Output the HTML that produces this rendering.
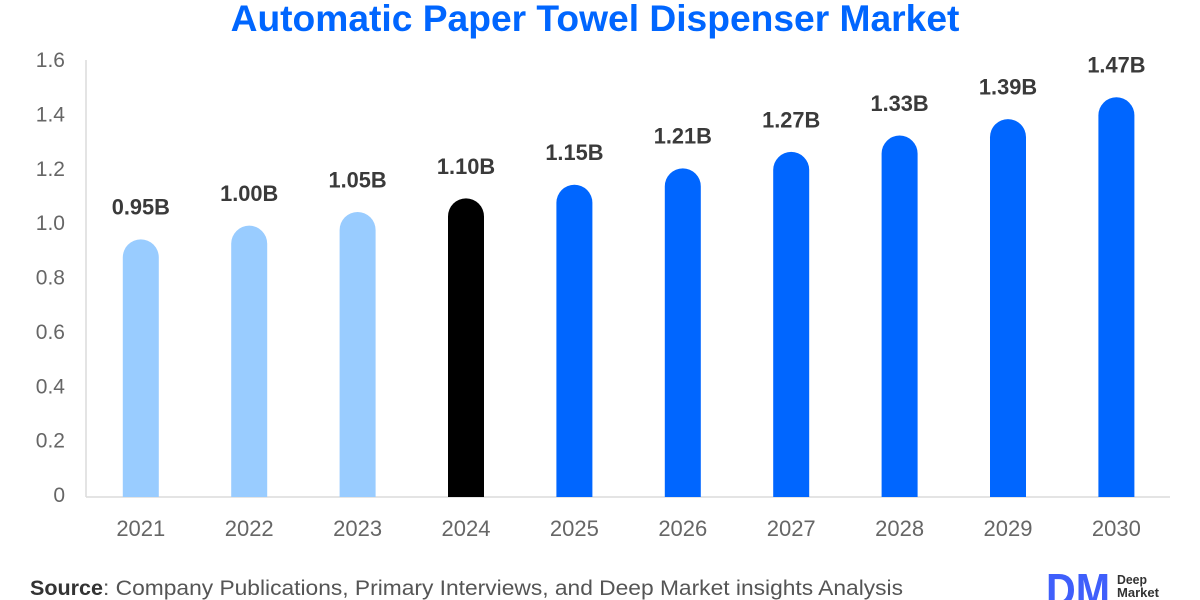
<!DOCTYPE html>
<html lang="en">
<head>
<meta charset="utf-8">
<title>Automatic Paper Towel Dispenser Market</title>
<style>
html,body{margin:0;padding:0;background:#fff;}
svg{display:block;font-family:"Liberation Sans",sans-serif;}
</style>
</head>
<body>
<svg id="chart" width="1200" height="600" viewBox="0 0 1200 600" xmlns="http://www.w3.org/2000/svg">
  <text x="595" y="31" text-anchor="middle" font-size="37.2" font-weight="bold" fill="#0066ff">Automatic Paper Towel Dispenser Market</text>
  <line x1="86" y1="60" x2="86" y2="497" stroke="#dcdcdc" stroke-width="1.5"/>
  <line x1="86" y1="497" x2="1170" y2="497" stroke="#dcdcdc" stroke-width="1.5"/>
  <g id="y-ticks"></g>
  <g id="bars"></g>
  <g id="values"></g>
  <g id="x-ticks"></g>
  <text x="30" y="595" font-size="21" font-weight="bold" fill="#333" textLength="73" lengthAdjust="spacingAndGlyphs">Source</text>
  <text x="103" y="595" font-size="21" fill="#555" textLength="800" lengthAdjust="spacingAndGlyphs">: Company Publications, Primary Interviews, and Deep Market insights Analysis</text>
  <g>
    <text x="1046" y="606" font-size="46" font-weight="bold" fill="#3f5ffb" textLength="64" lengthAdjust="spacingAndGlyphs">DM</text>
    <text x="1117" y="584" font-size="12.5" font-weight="bold" fill="#333" textLength="30" lengthAdjust="spacingAndGlyphs">Deep</text>
    <text x="1117" y="597" font-size="12.5" font-weight="bold" fill="#333" textLength="42" lengthAdjust="spacingAndGlyphs">Market</text>
  </g>
</svg>
<script>
const categories = ['2021','2022','2023','2024','2025','2026','2027','2028','2029','2030'];
const seriesValues = [0.95,1.00,1.05,1.10,1.15,1.21,1.27,1.33,1.39,1.47];
const printedValues = ['0.95B','1.00B','1.05B','1.10B','1.15B','1.21B','1.27B','1.33B','1.39B','1.47B'];
const barPeriods = ['past','past','past','base','forecast','forecast','forecast','forecast','forecast','forecast'];
const yTickValues = [0,0.2,0.4,0.6,0.8,1.0,1.2,1.4,1.6];
const yTickLabels = ['0','0.2','0.4','0.6','0.8','1.0','1.2','1.4','1.6'];

const NS = 'http://www.w3.org/2000/svg';
const plot = {left:86, right:1170, top:60, bottom:497, yMax:1.6};
const barWidth = 36;
const periodColor = {past:'#99ccff', base:'#000000', forecast:'#0066ff'};

function yScale(v){ return plot.bottom - (v / plot.yMax) * (plot.bottom - plot.top); }
function tickLabelY(v){ return 495 - (v / plot.yMax) * 435 + 7; }
function xCenter(i){ return plot.left + (i + 0.5) * (plot.right - plot.left) / categories.length + 0.6; }
function makeText(x, y, str, size, fill, anchor, weight){
  const t = document.createElementNS(NS, 'text');
  t.setAttribute('x', x);
  t.setAttribute('y', y);
  t.setAttribute('font-size', size);
  t.setAttribute('fill', fill);
  t.setAttribute('text-anchor', anchor);
  if (weight) t.setAttribute('font-weight', weight);
  t.textContent = str;
  return t;
}

const yGroup = document.getElementById('y-ticks');
yTickValues.forEach(function(v, i){
  const t = makeText(65, tickLabelY(v), yTickLabels[i], 21, '#666', 'end');
  
  
  yGroup.appendChild(t);
});

const barGroup = document.getElementById('bars');
const valueGroup = document.getElementById('values');
const xGroup = document.getElementById('x-ticks');
categories.forEach(function(cat, i){
  const cx = xCenter(i);
  const top = yScale(seriesValues[i]) + 1.8;
  const r = barWidth / 2;
  const p = document.createElementNS(NS, 'path');
  p.setAttribute('d', 'M' + (cx - r) + ' ' + plot.bottom + 'V' + (top + r) + 'A' + r + ' ' + r + ' 0 0 1 ' + (cx + r) + ' ' + (top + r) + 'V' + plot.bottom + 'Z');
  p.setAttribute('fill', periodColor[barPeriods[i]]);
  
  
  barGroup.appendChild(p);

  const v = makeText(cx, top - 24.6, printedValues[i], 21.8, '#3a3a3a', 'middle', 'bold');
  
  
  valueGroup.appendChild(v);

  const x = makeText(cx, 536, cat, 22, '#666', 'middle');
  
  
  xGroup.appendChild(x);
});
</script>
</body>
</html>
